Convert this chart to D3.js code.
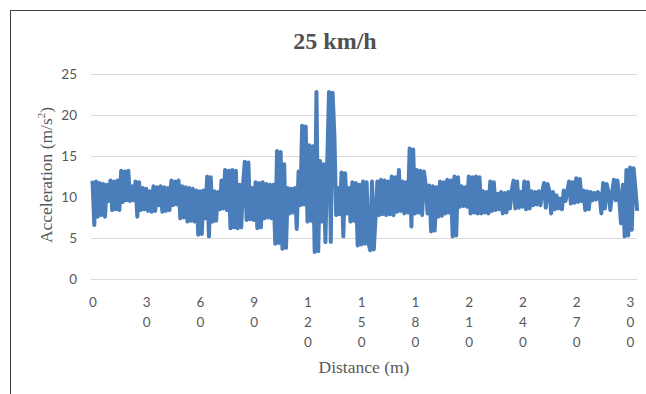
<!DOCTYPE html>
<html>
<head>
<meta charset="utf-8">
<script src="https://cdn.jsdelivr.net/npm/d3@7"></script>
<style>
  body { margin: 0; background: #fff; }
  svg { display: block; }
</style>
</head>
<body>
<div id="chart"></div>
<script>
// acceleration samples, one per metre (0..304 m)
const accel = [
  12.0, 6.6, 11.9, 7.6, 11.7, 7.8, 11.6, 7.6, 11.5, 9.5,
  12.0, 8.4, 11.9, 8.5, 12.0, 8.4, 13.2, 9.4, 13.1, 9.6,
  13.2, 9.5, 11.3, 9.6, 11.9, 7.6, 11.8, 8.4, 11.1, 8.5,
  11.0, 8.3, 10.7, 8.2, 11.3, 8.3, 11.2, 9.0, 11.3, 8.2,
  11.2, 8.3, 11.1, 8.4, 12.0, 9.0, 11.9, 9.1, 12.0, 7.4,
  11.3, 7.5, 11.2, 7.0, 11.1, 7.1, 11.0, 7.0, 10.8, 5.4,
  10.7, 5.5, 10.8, 7.4, 12.5, 5.2, 12.4, 7.0, 10.7, 7.1,
  10.6, 8.5, 12.0, 8.6, 13.3, 8.4, 13.2, 6.2, 13.3, 6.3,
  13.2, 6.2, 11.5, 6.3, 11.4, 14.3, 7.2, 14.2, 7.3, 11.1,
  7.2, 11.8, 6.2, 11.7, 6.3, 11.8, 7.4, 11.6, 7.5, 11.5,
  7.4, 11.5, 4.3, 15.6, 4.4, 15.5, 3.7, 14.0, 3.8, 11.1,
  8.0, 11.0, 8.1, 11.1, 6.1, 13.1, 9.0, 18.7, 9.1, 18.6,
  7.0, 16.3, 7.1, 16.2, 3.3, 22.8, 3.4, 14.4, 7.0, 14.0,
  4.5, 14.1, 22.8, 4.5, 22.7, 17.6, 7.8, 11.1, 7.9, 13.0,
  5.2, 12.9, 8.0, 11.1, 7.0, 11.8, 7.1, 11.7, 4.1, 11.5,
  4.2, 11.9, 4.3, 11.8, 4.4, 3.5, 11.9, 3.6, 7.6, 11.9,
  7.8, 12.1, 7.9, 12.0, 7.8, 11.9, 7.9, 12.5, 7.8, 12.4,
  8.2, 13.3, 8.3, 11.9, 8.0, 11.8, 8.1, 15.9, 6.4, 15.8,
  8.0, 13.3, 8.1, 13.2, 7.8, 13.1, 11.5, 8.0, 11.4, 5.8,
  11.3, 5.9, 11.2, 7.6, 11.9, 7.7, 11.8, 8.0, 12.1, 8.1,
  12.0, 5.2, 12.5, 5.3, 12.4, 8.8, 11.3, 8.9, 11.2, 8.8,
  12.5, 8.0, 12.4, 8.1, 12.5, 8.0, 12.4, 8.0, 10.7, 8.1,
  10.6, 8.0, 11.9, 8.3, 11.8, 8.4, 10.4, 8.5, 10.6, 8.0,
  10.5, 8.1, 10.6, 8.6, 10.8, 12.0, 8.6, 11.9, 8.7, 10.6,
  8.8, 11.9, 8.5, 11.8, 8.6, 10.7, 9.0, 10.6, 9.1, 10.7,
  9.0, 10.6, 11.7, 8.7, 11.6, 10.7, 8.0, 10.6, 8.5, 10.2,
  8.6, 9.8, 8.5, 10.8, 9.5, 10.7, 11.9, 9.2, 11.8, 9.3,
  12.3, 9.4, 12.2, 9.5, 10.8, 8.4, 10.7, 8.5, 10.6, 9.6,
  10.5, 9.7, 10.6, 10.4, 8.0, 11.7, 8.6, 11.6, 10.6, 8.4,
  10.5, 12.1, 9.6, 12.0, 9.7, 6.8, 11.5, 5.2, 13.3, 5.3,
  13.6, 6.0, 13.5, 11.1, 8.3
];
const distance = accel.map((d, i) => i);

const xTicks = [0, 30, 60, 90, 120, 150, 180, 210, 240, 270, 300];
const yTicks = [0, 5, 10, 15, 20, 25];

const W = 646, H = 394;
const plot = { left: 91, right: 637, top: 74, bottom: 279 };
const serif = '"Liberation Serif", "Times New Roman", serif';
const sans = 'Lato, "Open Sans", sans-serif';

const svg = d3.select('#chart').append('svg')
  .attr('width', W)
  .attr('height', H);

// chart frame (right and bottom edges fall outside the picture)
svg.append('rect')
  .attr('x', 10.5).attr('y', 10.5)
  .attr('width', 700).attr('height', 420)
  .attr('fill', 'none')
  .attr('stroke', '#404040')
  .attr('stroke-width', 1);

const x = d3.scaleLinear().domain([0, 300]).range([92.5, 630]);
const y = d3.scaleLinear().domain([0, 25]).range([plot.bottom, plot.top]);

// y axis + gridlines
const yAxis = svg.append('g')
  .attr('transform', `translate(${plot.left},0)`)
  .call(d3.axisLeft(y).tickValues(yTicks)
    .tickSize(-(plot.right - plot.left)).tickPadding(14));
yAxis.select('.domain').remove();
yAxis.selectAll('.tick line').attr('stroke', '#d9d9d9').attr('stroke-width', 1.2);
yAxis.selectAll('.tick text')
  .style('font-family', sans)
  .style('font-size', '13.5px')
  .attr('fill', '#595959');

// x axis labels, one digit per line
const xAxis = svg.append('g')
  .attr('transform', `translate(0,${plot.bottom})`)
  .call(d3.axisBottom(x).tickValues(xTicks).tickSize(0).tickPadding(0));
xAxis.select('.domain').remove();
xAxis.selectAll('.tick text')
  .style('font-family', sans)
  .style('font-size', '13.5px')
  .attr('fill', '#595959')
  .attr('dy', null)
  .attr('y', 0)
  .each(function (d) {
    const t = d3.select(this);
    const s = String(d);
    t.text(null);
    s.split('').forEach((ch, i) => {
      t.append('tspan')
        .attr('x', 0)
        .attr('y', 28 + i * 20)
        .text(ch);
    });
  });

// data line
const line = d3.line()
  .x((d, i) => x(distance[i]))
  .y(d => y(d));

svg.append('path')
  .datum(accel)
  .attr('d', line)
  .attr('fill', 'none')
  .attr('stroke', '#4a7ebb')
  .attr('stroke-width', 4)
  .attr('stroke-linejoin', 'round')
  .attr('stroke-linecap', 'butt');

// title
svg.append('text')
  .attr('x', 335)
  .attr('y', 49)
  .attr('text-anchor', 'middle')
  .style('font-family', serif)
  .style('font-size', '24px')
  .style('font-weight', 'bold')
  .attr('fill', '#505050')
  .text('25 km/h');

// axis titles
const yTitle = svg.append('text')
  .attr('transform', 'translate(52,175) rotate(-90)')
  .attr('text-anchor', 'middle')
  .style('font-family', serif)
  .style('font-size', '17.5px')
  .attr('fill', '#595959');
yTitle.append('tspan').text('Acceleration (m/s');
yTitle.append('tspan').attr('dy', -7).style('font-size', '11px').text('2');
yTitle.append('tspan').attr('dy', 7).text(')');

svg.append('text')
  .attr('x', 364)
  .attr('y', 373)
  .attr('text-anchor', 'middle')
  .style('font-family', serif)
  .style('font-size', '17.5px')
  .attr('fill', '#595959')
  .text('Distance (m)');
</script>
</body>
</html>
